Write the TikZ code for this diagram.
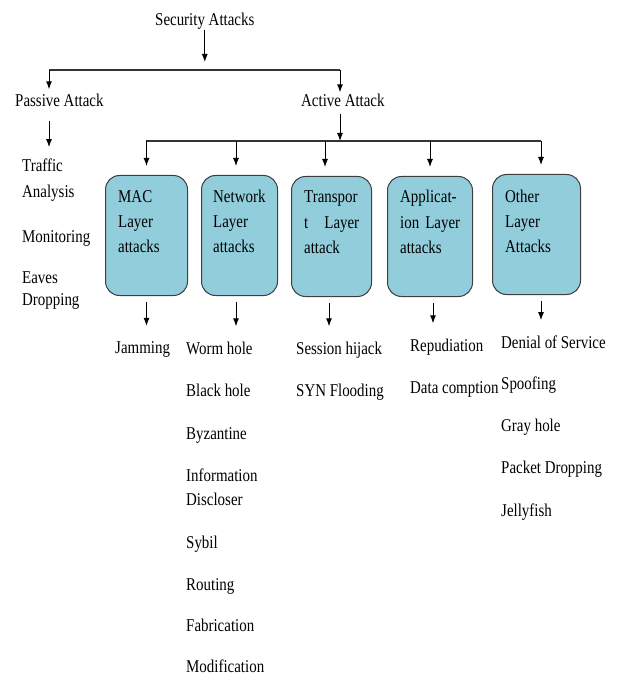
\documentclass[tikz,border=0pt]{standalone}
\usepackage{fontspec}
\setmainfont{Liberation Serif}[FakeStretch=0.83]
\usepackage{tikz}
\usetikzlibrary{arrows.meta}
\definecolor{boxblue}{RGB}{146,205,220}
\definecolor{boxline}{RGB}{62,62,62}
\tikzset{
  lbl/.style={anchor=base west,inner sep=0pt,align=left,font=\fontsize{18}{25}\selectfont},
  layerbox/.style={draw=boxline,fill=boxblue,line width=1pt,rounded corners=14pt,
    minimum height=120pt,anchor=north west},
  arr/.style={-{Latex[length=8pt,width=6pt]},line width=1pt},
  hub/.style={line width=1.2pt,draw=black!80},
}

\begin{document}
\begin{tikzpicture}[x=1pt,y=-1pt]
\useasboundingbox (0,0) rectangle (616,676);

% top levels
\node[lbl] (sec) at (155,26) {Security Attacks};
\node[lbl] (pas) at (15,107) {Passive Attack};
\node[lbl] (act) at (301,107) {Active Attack};
\coordinate (h1) at (49,70);
\coordinate (h2) at (340,70);
\coordinate (g1) at (146,141);
\coordinate (g2) at (541,141);

\draw[arr,shorten >=8pt] (sec.south) -- (sec.south |- h1);
\draw[hub] (h1) -- (h2);
\draw[arr,shorten >=5pt] (h1) -- (h1 |- pas.north);
\draw[arr,shorten >=2pt] (h2) -- (h2 |- act.north);
\draw[arr,shorten <=7pt] (h2 |- act.south) -- (h2 |- g1);
\draw[hub] (g1) -- (g2);

% passive attacks
\node[lbl,text width=80pt] (pa1) at (22,172) {Traffic\\Analysis};
\node[lbl] (pa2) at (22,242) {Monitoring};
\node[lbl,text width=80pt,font=\fontsize{18}{22}\selectfont] (pa3) at (22,283) {Eaves\\Dropping};
\draw[arr,shorten <=14pt,shorten >=12pt] (h1 |- pas.south) -- (h1 |- pa1.north);

% layer boxes
\node[layerbox,minimum width=82pt] (mac) at (105,175) {};
\node[layerbox,minimum width=76pt] (net) at (201,175) {};
\node[layerbox,minimum width=80pt] (tra) at (291,176) {};
\node[layerbox,minimum width=85pt] (app) at (387,176) {};
\node[layerbox,minimum width=88pt] (oth) at (492,174) {};

\node[lbl,text width=60pt,font=\fontsize{18}{25.5}\selectfont] (macl) at (118,202) {MAC\\Layer\\attacks};
\node[lbl,text width=60pt,font=\fontsize{18}{25.5}\selectfont] (netl) at (213,202) {Network\\Layer\\attacks};
\node[lbl,text width=55pt,font=\fontsize{18}{25.5}\selectfont] (tral) at (304,203) {Transpor\\t\hfill Layer\\attack};
\node[lbl,text width=90pt,font=\fontsize{18}{25.5}\selectfont] (appl) at (400,203) {Applicat-\\\mbox{ion Layer}\\attacks};
\node[lbl,text width=66pt,font=\fontsize{18}{25.5}\selectfont] (othl) at (505,202) {Other\\Layer\\Attacks};

\draw[arr,shorten >=9pt] (g1 -| mac) -- (mac.north);
\draw[arr,shorten >=9pt] (g1 -| 236,0) -- (236,0 |- net.north);
\draw[arr,shorten >=9pt] (g1 -| 325,0) -- (325,0 |- tra.north);
\draw[arr,shorten >=9pt] (g1 -| app) -- (app.north);
\draw[arr,shorten >=9pt] (g2) -- (g2 |- oth.north);

% attacks per layer
\node[lbl] (m1) at (115,353) {Jamming};

\node[lbl] (n1) at (186,354) {Worm hole};
\node[lbl] (n2) at (186,396) {Black hole};
\node[lbl] (n3) at (186,439) {Byzantine};
\node[lbl,text width=90pt,font=\fontsize{18}{24}\selectfont] (n4) at (186,481) {Information\\Discloser};
\node[lbl] (n5) at (186,548) {Sybil};
\node[lbl] (n6) at (186,590) {Routing};
\node[lbl] (n7) at (186,631) {Fabrication};
\node[lbl] (n8) at (186,672) {Modification};

\node[lbl] (t1) at (296,354) {Session hijack};
\node[lbl] (t2) at (296,396) {SYN Flooding};

\node[lbl] (a1) at (410,351) {Repudiation};
\node[lbl] (a2) at (410,393) {Data comption};

\node[lbl] (o1) at (501,348) {Denial of Service};
\node[lbl] (o2) at (501,389) {Spoofing};
\node[lbl] (o3) at (501,431) {Gray hole};
\node[lbl] (o4) at (501,473) {Packet Dropping};
\node[lbl] (o5) at (501,516) {Jellyfish};

\draw[arr,shorten <=6pt,shorten >=15pt] (mac.south) -- (mac.south |- m1.north);
\draw[arr,shorten <=6pt,shorten >=15pt] (236,0 |- net.south) -- (236,0 |- n1.north);
\draw[arr,shorten <=6pt,shorten >=15pt] (329,0 |- tra.south) -- (329,0 |- t1.north);
\draw[arr,shorten <=6pt,shorten >=15pt] (433,0 |- app.south) -- (433,0 |- a1.north);
\draw[arr,shorten <=6pt,shorten >=15pt] (g2 |- oth.south) -- (g2 |- o1.north);
\end{tikzpicture}
\end{document}
